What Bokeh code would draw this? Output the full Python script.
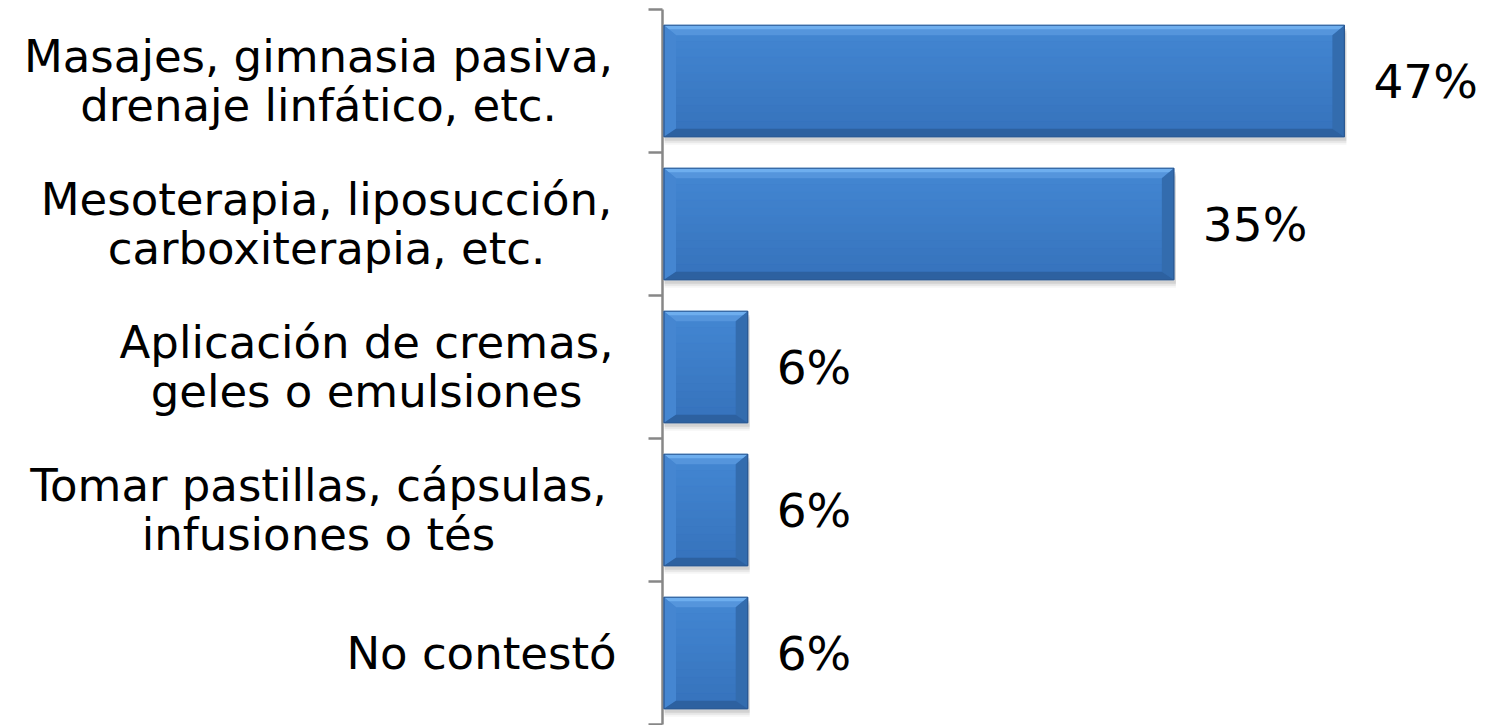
from bokeh.plotting import figure
from bokeh.models import Range1d
from bokeh.core.properties import value
from bokeh.embed import file_html
from bokeh.resources import INLINE

# ---- data ----
categories = [
    "Masajes, gimnasia pasiva,\ndrenaje linfático, etc.",
    "Mesoterapia, liposucción,\ncarboxiterapia, etc.",
    "Aplicación de cremas,\ngeles o emulsiones",
    "Tomar pastillas, cápsulas,\ninfusiones o tés",
    "No contestó",
]
values = [47.06, 35.29, 5.88, 5.88, 5.88]
value_labels = ["47%", "35%", "6%", "6%", "6%"]
tick_positions = [0, 1, 2, 3, 4, 5]

# ---- layout ----
W, H = 1487, 725
AXIS_X = 662          # pixel position of the value axis
PX_X = 14.49          # pixels per percent
TOP, BOTTOM = 9, 724  # pixel positions of the outer category boundaries
N = len(categories)
PX_Y = (BOTTOM - TOP) / N
BAR_H = 0.78

p = figure(width=W, height=H, output_backend="svg", toolbar_location=None,
           x_axis_type=None, y_axis_type=None,
           x_range=Range1d(-AXIS_X / PX_X, (W - AXIS_X) / PX_X),
           y_range=Range1d(-(H - BOTTOM) / PX_Y, N + TOP / PX_Y),
           min_border_left=0, min_border_right=0, min_border_top=0,
           min_border_bottom=0, background_fill_color="white",
           border_fill_color="white")
p.outline_line_color = None
p.grid.visible = False

# value axis line and category boundary ticks
AX_COL = "#878787"
p.segment(x0=[0], y0=[tick_positions[0]], x1=[0], y1=[tick_positions[-1]],
          line_color=AX_COL, line_width=2.5)
p.segment(x0=[-14 / PX_X] * len(tick_positions), y0=tick_positions,
          x1=[0] * len(tick_positions), y1=tick_positions,
          line_color=AX_COL, line_width=2.5)

yc = [N - 0.5 - i for i in range(N)]
y0 = [c - BAR_H / 2 for c in yc]
y1 = [c + BAR_H / 2 for c in yc]
x0 = [1.5 / PX_X] * N

# shadow
for dy, a in [(8, 0.05), (6, 0.08), (4, 0.12)]:
    p.quad(left=[2 / PX_X] * N, right=[v + 2 / PX_X for v in values],
           bottom=[b - dy / PX_Y for b in y0], top=[t - dy / PX_Y for t in y1],
           fill_color="#404040", fill_alpha=a, line_color=None)

# main face with a smooth vertical gradient
def mix(c1, c2, t):
    a = [int(c1[i:i + 2], 16) for i in (1, 3, 5)]
    b = [int(c2[i:i + 2], 16) for i in (1, 3, 5)]
    return "#%02x%02x%02x" % tuple(round(a[k] + (b[k] - a[k]) * t) for k in range(3))

p.quad(left=x0, right=values, bottom=y0, top=y1, fill_color="#3c7bc7", line_color=None)
NB = 14
for k in range(NB):
    col = mix("#3673bc", "#4386d2", k / (NB - 1))
    bb = [b + (BAR_H * k / NB) for b in y0]
    tt = [b + (BAR_H * (k + 1) / NB) for b in y0]
    p.quad(left=x0, right=values, bottom=bb, top=tt, fill_color=col,
           line_color=col, line_width=0.8)

bx = 12 / PX_X
bt = 10 / PX_Y
bb_ = 8 / PX_Y
hx, hy = 4 / PX_X, 4 / PX_Y

top_x, top_y, bot_x, bot_y, lef_x, lef_y, rig_x, rig_y = [], [], [], [], [], [], [], []
hi_x, hi_y = [], []
for xs0, v, b, t in zip(x0, values, y0, y1):
    top_x.append([xs0, v, v - bx, xs0 + bx]); top_y.append([t, t, t - bt, t - bt])
    hi_x.append([xs0, v, v - hx, xs0 + hx]); hi_y.append([t, t, t - hy, t - hy])
    bot_x.append([xs0, v, v - bx, xs0 + bx]); bot_y.append([b, b, b + bb_, b + bb_])
    lef_x.append([xs0, xs0, xs0 + bx, xs0 + bx]); lef_y.append([b, t, t - bt, b + bb_])
    rig_x.append([v, v, v - bx, v - bx]); rig_y.append([b, t, t - bt, b + bb_])

p.patches(top_x, top_y, fill_color="#5595dc", line_color=None)
p.patches(hi_x, hi_y, fill_color="#6eaeee", line_color=None)
p.patches(lef_x, lef_y, fill_color="#4586d1", line_color=None)
p.patches(rig_x, rig_y, fill_color="#336cae", line_color=None)
p.patches(bot_x, bot_y, fill_color="#2d61a0", line_color=None)
p.quad(left=x0, right=values, bottom=y0, top=y1, fill_color=None,
       line_color="#2b5891", line_width=1.2)

# category labels (centred multi-line blocks ending near the axis)
label_offsets = [-344, -336, -296, -344, -181]
p.text(x=[0] * N, y=yc, text=categories, x_offset=label_offsets,
       text_align="center", text_baseline="middle",
       text_font=value("DejaVu Sans"), text_font_size="45px",
       text_color="#000000", text_line_height=0.92)

# value labels
p.text(x=values, y=yc, text=value_labels, x_offset=29,
       text_align="left", text_baseline="middle",
       text_font=value("DejaVu Sans"), text_font_size="47px",
       text_color="#000000")

open("out.html", "w").write(file_html(p, INLINE))
